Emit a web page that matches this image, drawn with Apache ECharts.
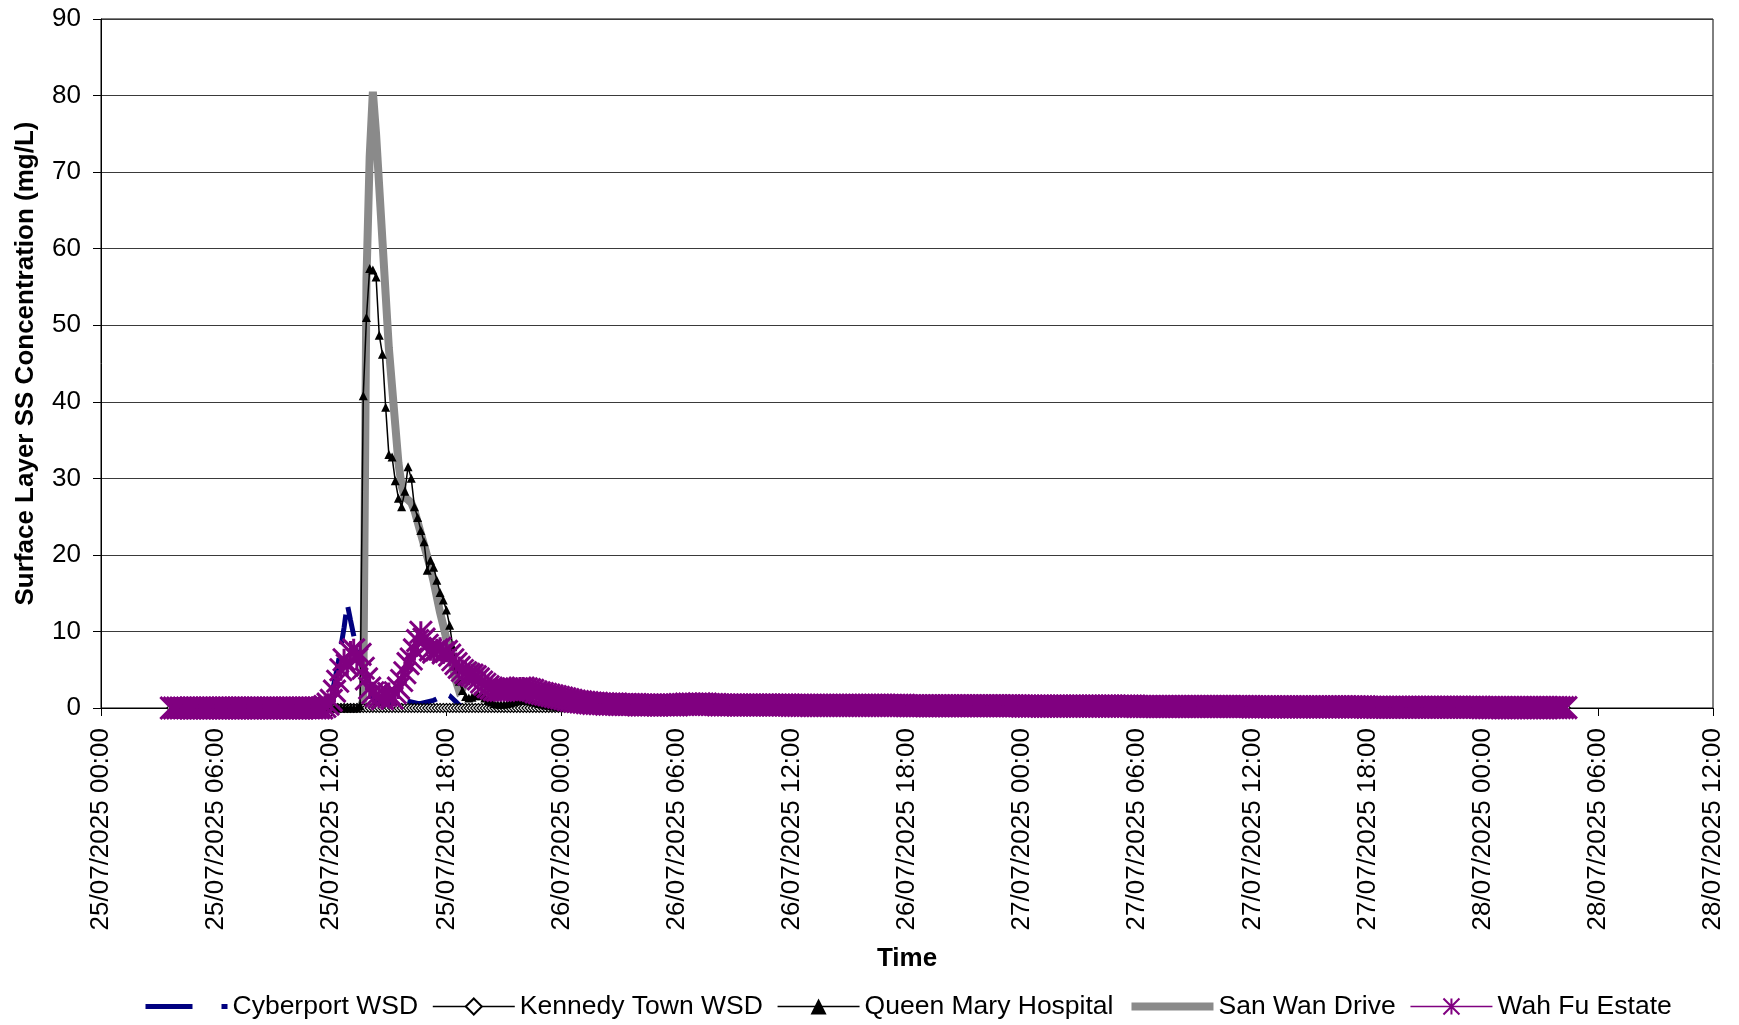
<!DOCTYPE html>
<html>
<head>
<meta charset="utf-8">
<title>Surface Layer SS Concentration</title>
<script src="https://cdn.jsdelivr.net/npm/echarts@6/dist/echarts.min.js"></script>
<style>
  html, body { margin: 0; padding: 0; background: #fff; }
  #chart { width: 1739px; height: 1025px; }
</style>
</head>
<body>
<div id="chart"></div>
<script>
// x values are hours since 25/07/2025 00:00, one sample every 10 minutes
const startHour = 3 + 40 / 60;   // 25/07/2025 03:40
const stepHour = 10 / 60;

const tickLabels = [
  '25/07/2025 00:00', '25/07/2025 06:00', '25/07/2025 12:00', '25/07/2025 18:00',
  '26/07/2025 00:00', '26/07/2025 06:00', '26/07/2025 12:00', '26/07/2025 18:00',
  '27/07/2025 00:00', '27/07/2025 06:00', '27/07/2025 12:00', '27/07/2025 18:00',
  '28/07/2025 00:00', '28/07/2025 06:00', '28/07/2025 12:00'
];

const seriesNames = ['Cyberport WSD', 'Kennedy Town WSD', 'Queen Mary Hospital', 'San Wan Drive', 'Wah Fu Estate'];

// one row = 6 hours (groups of 6 = 1 hour); first row 03:40-05:50, last row 00:00-04:20
const cyberport = [
  0,0, 0,0,0,0,0,0, 0,0,0,0,0,0,
  0,0,0,0,0,0, 0,0,0,0,0,0, 0,0,0,0,0,0, 0,0,0,0,0,0, 0,0,0,0,0,0, 0,0,0,0,0,0.5,
  1.4,3.5,5.5,8,10.5,13.6, 11.5,9.5,7.5,6,5,4, 3,1.5,0.8,0.6,0.5,0.6, 0.7,0.8,0.9,1,1,1, 0.9,0.8,0.7,0.6,0.6,0.7, 0.8,0.9,1,1.2,1.5,1.7,
  1.8,1.6,1.2,0.8,0.4,0.2, 0.1,0,0,0,0,0, 0,0,0,0,0,0, 0,0,0,0,0,0, 0,0,0,0,0,0, 0,0,0,0,0,0,
  0,0,0,0,0,0, 0,0,0,0,0,0, 0,0,0,0,0,0, 0,0,0,0,0,0, 0,0,0,0,0,0, 0,0,0,0,0,0,
  0,0,0,0,0,0, 0,0,0,0,0,0, 0,0,0,0,0,0, 0,0,0,0,0,0, 0,0,0,0,0,0, 0,0,0,0,0,0,
  0,0,0,0,0,0, 0,0,0,0,0,0, 0,0,0,0,0,0, 0,0,0,0,0,0, 0,0,0,0,0,0, 0,0,0,0,0,0,
  0,0,0,0,0,0, 0,0,0,0,0,0, 0,0,0,0,0,0, 0,0,0,0,0,0, 0,0,0,0,0,0, 0,0,0,0,0,0,
  0,0,0,0,0,0, 0,0,0,0,0,0, 0,0,0,0,0,0, 0,0,0,0,0,0, 0,0,0,0,0,0, 0,0,0,0,0,0,
  0,0,0,0,0,0, 0,0,0,0,0,0, 0,0,0,0,0,0, 0,0,0,0,0,0, 0,0,0,0,0,0, 0,0,0,0,0,0,
  0,0,0,0,0,0, 0,0,0,0,0,0, 0,0,0,0,0,0, 0,0,0,0,0,0, 0,0,0,0,0,0, 0,0,0,0,0,0,
  0,0,0,0,0,0, 0,0,0,0,0,0, 0,0,0,0,0,0, 0,0,0,0,0,0, 0,0,0,0,0,0, 0,0,0,0,0,0,
  0,0,0,0,0,0, 0,0,0,0,0,0, 0,0,0,0,0,0, 0,0,0,0,0,0, 0,0,0
];

const kennedyTown = [
  0,0, 0,0,0,0,0,0, 0,0,0,0,0,0,
  0,0,0,0,0,0, 0,0,0,0,0,0, 0,0,0,0,0,0, 0,0,0,0,0,0, 0,0,0,0,0,0, 0,0,0,0,0,0,
  0,0,0,0,0,0, 0,0,0,0,0,0, 0,0,0,0,0,0, 0,0,0,0,0,0, 0,0,0,0,0,0, 0,0,0,0,0,0,
  0,0,0,0,0,0, 0,0,0,0,0,0, 0,0,0,0,0,0, 0,0,0,0,0,0, 0,0,0,0,0,0, 0,0,0,0,0,0,
  0,0,0,0,0,0, 0,0,0,0,0,0, 0,0,0,0,0,0, 0,0,0,0,0,0, 0,0,0,0,0,0, 0,0,0,0,0,0,
  0,0,0,0,0,0, 0,0,0,0,0,0, 0,0,0,0,0,0, 0,0,0,0,0,0, 0,0,0,0,0,0, 0,0,0,0,0,0,
  0,0,0,0,0,0, 0,0,0,0,0,0, 0,0,0,0,0,0, 0,0,0,0,0,0, 0,0,0,0,0,0, 0,0,0,0,0,0,
  0,0,0,0,0,0, 0,0,0,0,0,0, 0,0,0,0,0,0, 0,0,0,0,0,0, 0,0,0,0,0,0, 0,0,0,0,0,0,
  0,0,0,0,0,0, 0,0,0,0,0,0, 0,0,0,0,0,0, 0,0,0,0,0,0, 0,0,0,0,0,0, 0,0,0,0,0,0,
  0,0,0,0,0,0, 0,0,0,0,0,0, 0,0,0,0,0,0, 0,0,0,0,0,0, 0,0,0,0,0,0, 0,0,0,0,0,0,
  0,0,0,0,0,0, 0,0,0,0,0,0, 0,0,0,0,0,0, 0,0,0,0,0,0, 0,0,0,0,0,0, 0,0,0,0,0,0,
  0,0,0,0,0,0, 0,0,0,0,0,0, 0,0,0,0,0,0, 0,0,0,0,0,0, 0,0,0,0,0,0, 0,0,0,0,0,0,
  0,0,0,0,0,0, 0,0,0,0,0,0, 0,0,0,0,0,0, 0,0,0,0,0,0, 0,0,0
];

const queenMary = [
  0,0, 0,0,0,0,0,0, 0,0,0,0,0,0,
  0,0,0,0,0,0, 0,0,0,0,0,0, 0,0,0,0,0,0, 0,0,0,0,0,0, 0,0,0,0,0,0, 0,0,0,0,0,0,
  0,0,0,0,0,0, 0,0,0,0.3,40.8,51, 57.4,57.2,56.3,48.7,46.2,39.3, 33.1,32.8,29.7,27.4,26.3,28.3, 31.5,30,26.3,24.9,23.2,21.7, 18,19.3,18.4,16.7,15.1,14.1,
  12.8,10.8,8,5.5,3.5,2.3, 1.5,1.3,1.4,1.6,1.7,1.6, 1.3,1,0.8,0.6,0.5,0.5, 0.5,0.6,0.7,0.8,0.9,1, 1,1,0.9,0.8,0.7,0.6, 0.5,0.4,0.35,0.3,0.25,0.2,
  0.15,0.1,0.1,0.05,0.05,0, 0,0,0,0,0,0, 0,0,0,0,0,0, 0,0,0,0,0,0, 0,0,0,0,0,0, 0,0,0,0,0,0,
  0,0,0,0,0,0, 0,0,0,0,0,0, 0,0,0,0,0,0, 0,0,0,0,0,0, 0,0,0,0,0,0, 0,0,0,0,0,0,
  0,0,0,0,0,0, 0,0,0,0,0,0, 0,0,0,0,0,0, 0,0,0,0,0,0, 0,0,0,0,0,0, 0,0,0,0,0,0,
  0,0,0,0,0,0, 0,0,0,0,0,0, 0,0,0,0,0,0, 0,0,0,0,0,0, 0,0,0,0,0,0, 0,0,0,0,0,0,
  0,0,0,0,0,0, 0,0,0,0,0,0, 0,0,0,0,0,0, 0,0,0,0,0,0, 0,0,0,0,0,0, 0,0,0,0,0,0,
  0,0,0,0,0,0, 0,0,0,0,0,0, 0,0,0,0,0,0, 0,0,0,0,0,0, 0,0,0,0,0,0, 0,0,0,0,0,0,
  0,0,0,0,0,0, 0,0,0,0,0,0, 0,0,0,0,0,0, 0,0,0,0,0,0, 0,0,0,0,0,0, 0,0,0,0,0,0,
  0,0,0,0,0,0, 0,0,0,0,0,0, 0,0,0,0,0,0, 0,0,0,0,0,0, 0,0,0,0,0,0, 0,0,0,0,0,0,
  0,0,0,0,0,0, 0,0,0,0,0,0, 0,0,0,0,0,0, 0,0,0,0,0,0, 0,0,0
];

const sanWan = [
  0,0, 0,0,0,0,0,0, 0,0,0,0,0,0,
  0,0,0,0,0,0, 0,0,0,0,0,0, 0,0,0,0,0,0, 0,0,0,0,0,0, 0,0,0,0,0,0, 0,0,0,0,0,0,
  0,0,0,0,0,0, 0,0,0,0,1,56, 72,80.5,75,68,61,54, 47,42,37,32,29,27.5, 27.2,26.8,25.8,24.3,22.8,21.3, 19.8,18.3,16.5,14.5,12.5,10.8,
  9,7.2,5.3,3.5,2.2,2.5, 3.5,4.5,5.2,5.5,5.2,4, 2.5,1.2,0.5,0.2,0,0, 0,0,0,0,0,0, 0,0,0,0,0,0, 0,0,0,0,0,0,
  0,0,0,0,0,0, 0,0,0,0,0,0, 0,0,0,0,0,0, 0,0,0,0,0,0, 0,0,0,0,0,0, 0,0,0,0,0,0,
  0,0,0,0,0,0, 0,0,0,0,0,0, 0,0,0,0,0,0, 0,0,0,0,0,0, 0,0,0,0,0,0, 0,0,0,0,0,0,
  0,0,0,0,0,0, 0,0,0,0,0,0, 0,0,0,0,0,0, 0,0,0,0,0,0, 0,0,0,0,0,0, 0,0,0,0,0,0,
  0,0,0,0,0,0, 0,0,0,0,0,0, 0,0,0,0,0,0, 0,0,0,0,0,0, 0,0,0,0,0,0, 0,0,0,0,0,0,
  0,0,0,0,0,0, 0,0,0,0,0,0, 0,0,0,0,0,0, 0,0,0,0,0,0, 0,0,0,0,0,0, 0,0,0,0,0,0,
  0,0,0,0,0,0, 0,0,0,0,0,0, 0,0,0,0,0,0, 0,0,0,0,0,0, 0,0,0,0,0,0, 0,0,0,0,0,0,
  0,0,0,0,0,0, 0,0,0,0,0,0, 0,0,0,0,0,0, 0,0,0,0,0,0, 0,0,0,0,0,0, 0,0,0,0,0,0,
  0,0,0,0,0,0, 0,0,0,0,0,0, 0,0,0,0,0,0, 0,0,0,0,0,0, 0,0,0,0,0,0, 0,0,0,0,0,0,
  0,0,0,0,0,0, 0,0,0,0,0,0, 0,0,0,0,0,0, 0,0,0,0,0,0, 0,0,0
];

const wahFu = [
  0,0, 0,0,0,0,0,0, 0,0,0,0,0,0,
  0,0,0,0,0,0, 0,0,0,0,0,0, 0,0,0,0,0,0, 0,0,0,0,0,0, 0,0,0,0,0,0, 0,0,0,0,0.2,0.5,
  1,2.2,3.5,5,6.3,5.6, 7.3,7.6,6.4,7,5.2,3.8, 2.6,2,1.6,1.4,1.2,1.6, 1.9,1.3,2,2.6,3.6,4.6, 5.8,6.4,7.6,8.8,9.9,9, 8.2,7.6,7.3,7.6,7.8,7.2,
  7.4,6.9,6.3,5.8,5.3,4.9, 4.6,4.4,4.3,4.1,3.8,3.4, 3.1,2.8,2.6,2.4,2.3,2.3, 2.3,2.4,2.4,2.5,2.5,2.6, 2.6,2.5,2.4,2.3,2.1,2, 1.9,1.8,1.7,1.6,1.5,1.4,
  1.3,1.2,1.1,1,0.9,0.85, 0.8,0.75,0.7,0.65,0.6,0.6, 0.55,0.55,0.5,0.5,0.5,0.5, 0.45,0.45,0.45,0.45,0.45,0.45, 0.4,0.4,0.4,0.4,0.4,0.4, 0.4,0.4,0.4,0.4,0.4,0.4,
  0.4,0.45,0.45,0.5,0.5,0.5, 0.5,0.55,0.5,0.5,0.45,0.45, 0.45,0.4,0.4,0.4,0.4,0.4, 0.4,0.4,0.4,0.4,0.4,0.4, 0.4,0.4,0.4,0.4,0.4,0.4, 0.4,0.4,0.4,0.4,0.4,0.4,
  0.35,0.35,0.35,0.35,0.35,0.35, 0.35,0.35,0.35,0.35,0.35,0.35, 0.35,0.35,0.35,0.35,0.35,0.35, 0.35,0.35,0.35,0.35,0.35,0.35, 0.35,0.35,0.35,0.35,0.35,0.35, 0.35,0.35,0.35,0.35,0.35,0.35,
  0.3,0.3,0.3,0.3,0.3,0.3, 0.3,0.3,0.3,0.3,0.3,0.3, 0.3,0.3,0.3,0.3,0.3,0.3, 0.3,0.3,0.3,0.3,0.3,0.3, 0.3,0.3,0.3,0.3,0.3,0.3, 0.3,0.3,0.3,0.3,0.3,0.3,
  0.25,0.25,0.25,0.25,0.25,0.25, 0.25,0.25,0.25,0.25,0.25,0.25, 0.25,0.25,0.25,0.25,0.25,0.25, 0.25,0.25,0.25,0.25,0.25,0.25, 0.25,0.25,0.25,0.25,0.25,0.25, 0.25,0.25,0.25,0.25,0.25,0.25,
  0.2,0.2,0.2,0.2,0.2,0.2, 0.2,0.2,0.2,0.2,0.2,0.2, 0.2,0.2,0.2,0.2,0.2,0.2, 0.2,0.2,0.2,0.2,0.2,0.2, 0.2,0.2,0.2,0.2,0.2,0.2, 0.2,0.2,0.2,0.2,0.2,0.2,
  0.15,0.15,0.15,0.15,0.15,0.15, 0.15,0.15,0.15,0.15,0.15,0.15, 0.15,0.15,0.15,0.15,0.15,0.15, 0.15,0.15,0.15,0.15,0.15,0.15, 0.15,0.15,0.15,0.15,0.15,0.15, 0.15,0.15,0.15,0.15,0.15,0.15,
  0.1,0.1,0.1,0.1,0.1,0.1, 0.1,0.1,0.1,0.1,0.1,0.1, 0.1,0.1,0.1,0.1,0.1,0.1, 0.1,0.1,0.1,0.1,0.1,0.1, 0.1,0.1,0.1,0.1,0.1,0.1, 0.1,0.1,0.1,0.1,0.1,0.1,
  0.05,0.05,0.05,0.05,0.05,0.05, 0.05,0.05,0.05,0.05,0.05,0.05, 0.05,0.05,0.05,0.05,0.05,0.05, 0.05,0.05,0.05,0.05,0.05,0.05, 0.05,0.05,0.05
];

const font = "'Liberation Sans', Arial, sans-serif";

function toPoints(values) {
  return values.map((v, i) => [startHour + i * stepHour, v]);
}

// Excel-style star marker: an X with a vertical bar
const asterisk = 'path://M0,0L10,10M10,0L0,10M5,0L5,10';

const chart = echarts.init(document.getElementById('chart'), null, { renderer: 'canvas' });

const option = {
  animation: false,
  backgroundColor: '#fff',
  grid: {
    left: 101, right: 26, top: 19, bottom: 317,
    show: true, borderColor: '#000', borderWidth: 1, backgroundColor: 'transparent'
  },
  legend: {
    left: 138, top: 988,
    itemWidth: 82, itemHeight: 20, itemGap: 14,
    selectedMode: false,
    textStyle: { fontFamily: font, fontSize: 26.5, color: '#000' },
    data: [
      { name: seriesNames[0], lineStyle: { width: 5, type: [47, 29] }, itemStyle: { opacity: 0 } },
      { name: seriesNames[1], lineStyle: { width: 1.5 } },
      { name: seriesNames[2], lineStyle: { width: 1.5 } },
      { name: seriesNames[3], lineStyle: { width: 8 }, itemStyle: { opacity: 0 } },
      { name: seriesNames[4], lineStyle: { width: 1.5 } }
    ]
  },
  xAxis: {
    type: 'value',
    min: 0, max: 84, interval: 6,
    name: 'Time', nameLocation: 'middle', nameGap: 238,
    nameTextStyle: { fontFamily: font, fontSize: 26, fontWeight: 'bold', color: '#000' },
    axisLine: { lineStyle: { color: '#000', width: 1 } },
    axisTick: { length: 8, lineStyle: { color: '#000' } },
    axisLabel: {
      rotate: 90, margin: 20,
      fontFamily: font, fontSize: 26, color: '#000',
      formatter: (h) => tickLabels[Math.round(h / 6)]
    },
    splitLine: { show: false }
  },
  yAxis: {
    type: 'value',
    min: 0, max: 90, interval: 10,
    name: 'Surface Layer SS Concentration (mg/L)', nameLocation: 'middle', nameGap: 62,
    nameTextStyle: { fontFamily: font, fontSize: 26, fontWeight: 'bold', color: '#000' },
    axisLine: { show: true, lineStyle: { color: '#000', width: 1 } },
    axisTick: { show: true, length: 8, lineStyle: { color: '#000' } },
    axisLabel: { margin: 20, fontFamily: font, fontSize: 26, color: '#000' },
    splitLine: { show: true, lineStyle: { color: '#3a3a3a', width: 1 } }
  },
  series: [
    {
      name: seriesNames[0], type: 'line', data: toPoints(cyberport),
      symbol: 'none', silent: true, clip: false,
      itemStyle: { color: '#000080' },
      lineStyle: { color: '#000080', width: 5, type: [30, 14], cap: 'butt' }
    },
    {
      name: seriesNames[3], type: 'line', data: toPoints(sanWan),
      symbol: 'none', silent: true, clip: false,
      itemStyle: { color: '#8a8a8a' },
      lineStyle: { color: '#8a8a8a', width: 8, join: 'miter' }
    },
    {
      name: seriesNames[1], type: 'line', data: toPoints(kennedyTown),
      symbol: 'diamond', symbolSize: 9, silent: true, clip: false,
      itemStyle: { color: '#fff', borderColor: '#000', borderWidth: 1.2 },
      lineStyle: { color: '#000', width: 1.5 }
    },
    {
      name: seriesNames[2], type: 'line', data: toPoints(queenMary),
      symbol: 'triangle', symbolSize: 9, silent: true, clip: false,
      itemStyle: { color: '#000', borderWidth: 0 },
      lineStyle: { color: '#000', width: 1.5 }
    },
    {
      name: seriesNames[4], type: 'line', data: toPoints(wahFu),
      symbol: asterisk, symbolSize: 22, silent: true, clip: false,
      itemStyle: { color: '#800080', borderColor: '#800080', borderWidth: 3 },
      lineStyle: { color: '#800080', width: 1.5 }
    }
  ]
};

chart.setOption(option);
window.addEventListener('resize', function () {
  chart.resize();
});
</script>
</body>
</html>
